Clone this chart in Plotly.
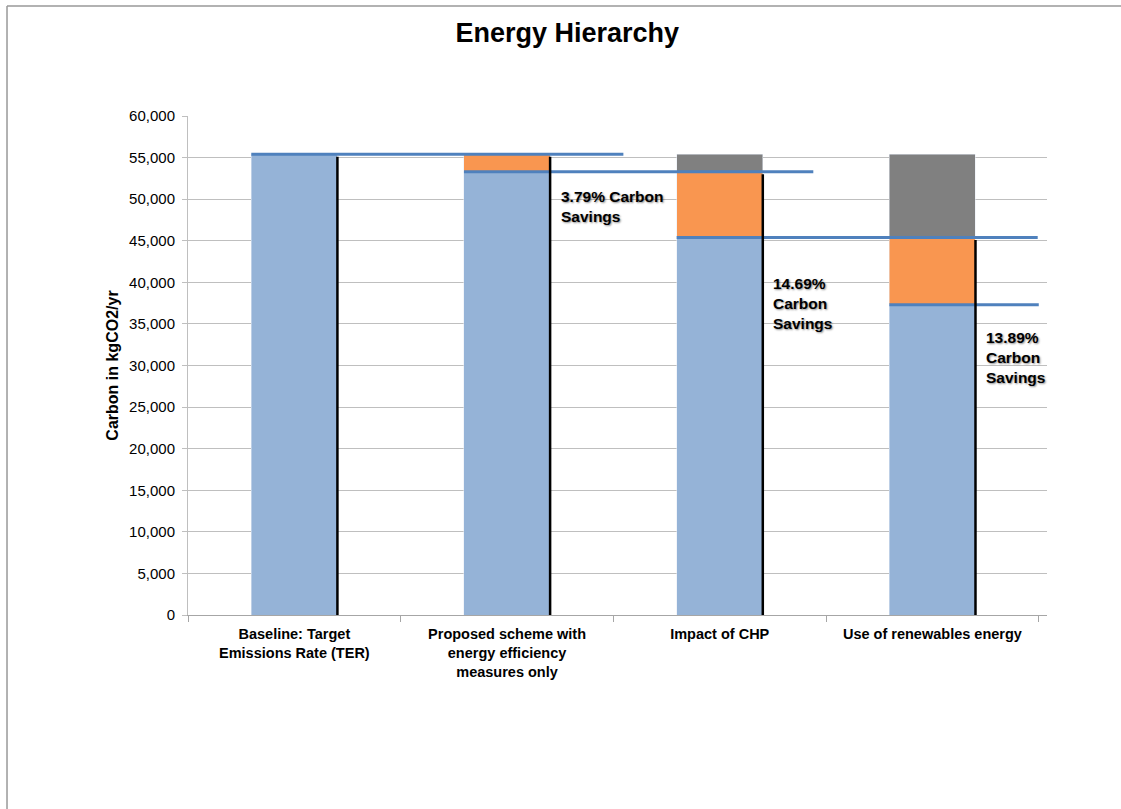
import plotly.graph_objects as go

# Scenario categories (x axis)
categories = [
    "Baseline: Target<br>Emissions Rate (TER)",
    "Proposed scheme with<br>energy efficiency<br>measures only",
    "Impact of CHP",
    "Use of renewables energy",
]

# Stacked components, kgCO2/yr
remaining = [55400, 53300, 45400, 37300]      # emissions after each step
step_saving = [0, 2100, 7900, 8100]           # saving achieved by this step
earlier_saving = [0, 0, 2100, 10000]          # savings from previous steps

savings_labels = ["", "3.79% Carbon<br>Savings", "14.69%<br>Carbon<br>Savings", "13.89%<br>Carbon<br>Savings"]
label_tops = [0, 51600, 41100, 34600]

# how far right each step line runs past its bar (in category units)
line_ends = [1.547, 2.44, 3.495, 3.5]

y_ticks = list(range(0, 60001, 5000))

BAR_W = 0.405
FONT = "Liberation Sans, Arial, sans-serif"

fig = go.Figure()
fig.add_trace(go.Bar(x=categories, y=remaining, marker_color="#95B3D7", width=BAR_W, name="remaining"))
fig.add_trace(go.Bar(x=categories, y=step_saving, marker_color="#F99650", width=BAR_W, name="step"))
fig.add_trace(go.Bar(x=categories, y=earlier_saving, marker_color="#808080", width=BAR_W, name="earlier"))

shapes = []
for i in range(len(categories)):
    # step level line
    shapes.append(dict(type="line", xref="x", yref="y",
                       x0=i - BAR_W / 2, x1=line_ends[i], y0=remaining[i], y1=remaining[i],
                       line=dict(color="#4F81BD", width=3), layer="above"))
    # dark edge on the right of the blue/orange part
    top = remaining[i] + step_saving[i]
    shapes.append(dict(type="line", xref="x", yref="y",
                       x0=i + BAR_W / 2, x1=i + BAR_W / 2, y0=0, y1=top - 300,
                       line=dict(color="#000000", width=2.5), layer="above"))

# outer frame of the chart area
shapes.append(dict(type="line", xref="paper", yref="paper", x0=-0.2107, x1=1.2, y0=1.2204, y1=1.2204,
                   line=dict(color="#999999", width=1.5)))
shapes.append(dict(type="line", xref="paper", yref="paper", x0=-0.2107, x1=-0.2107, y0=1.2204, y1=-0.5,
                   line=dict(color="#999999", width=1.5)))

annotations = []
for i, txt in enumerate(savings_labels):
    if not txt:
        continue
    annotations.append(dict(x=i + BAR_W / 2 + 0.04, y=label_tops[i], xref="x", yref="y",
                            text="<b>" + txt + "</b>", showarrow=False, xanchor="left", yanchor="top",
                            align="left",
                            font=dict(family=FONT, size=15.5, color="#000000",
                                      shadow="1px 1px 2px rgba(0,0,0,0.45)")))

fig.update_layout(
    width=1121, height=809,
    margin=dict(l=188, r=74, t=116, b=194),
    paper_bgcolor="white", plot_bgcolor="white",
    barmode="stack", showlegend=False,
    title=dict(text="<b>Energy Hierarchy</b>", x=0.506, xanchor="center", y=0.96, yanchor="middle",
               font=dict(family=FONT, size=27, color="#000000")),
    font=dict(family=FONT, color="#000000"),
    shapes=shapes, annotations=annotations,
)

fig.update_xaxes(
    tickvals=categories,
    ticktext=["<b>" + c + "</b>" for c in categories],
    tickfont=dict(family=FONT, size=14.5, color="#000000"),
    showline=True, linecolor="#A6A6A6", linewidth=1,
    ticks="outside", tickson="boundaries", ticklen=6, tickcolor="#A6A6A6",
    ticklabelstandoff=6,
    showgrid=False,
)
fig.update_yaxes(
    range=[0, 60000], tickvals=y_ticks, tickformat=",",
    tickfont=dict(family=FONT, size=15, color="#000000"),
    showline=True, linecolor="#BFBFBF", linewidth=1,
    ticks="outside", ticklen=5, tickcolor="#BFBFBF",
    ticklabelstandoff=4,
    gridcolor="#BFBFBF", gridwidth=1,
    zeroline=False,
    title=dict(text="<b>Carbon in kgCO2/yr</b>", font=dict(family=FONT, size=16, color="#000000"), standoff=6),
)

fig.write_html("out.html")
